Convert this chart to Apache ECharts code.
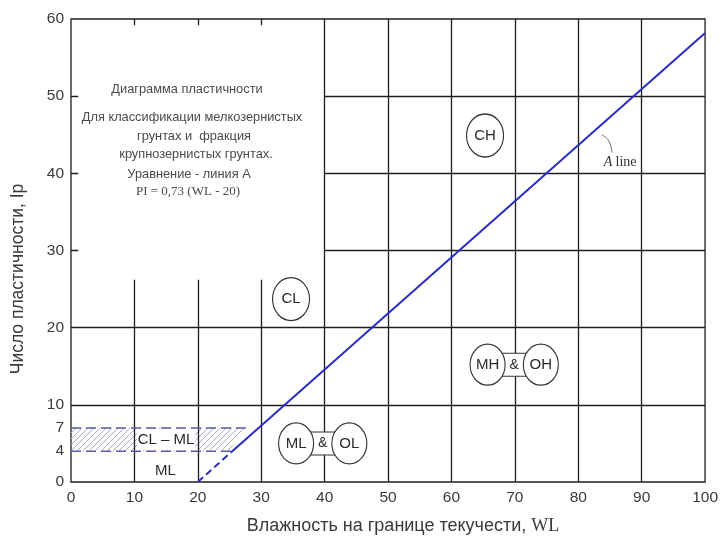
<!DOCTYPE html>
<html><head><meta charset="utf-8">
<script src="https://cdn.jsdelivr.net/npm/echarts@6/dist/echarts.min.js"></script>
<style>html,body{margin:0;padding:0;background:#fff}#c{width:721px;height:544px}</style>
</head><body><div id="c"></div>
<script>
// ---- data ----
const xTickValues = [0,10,20,30,40,50,60,70,80,90,100];
const yTickValues = [0,4,7,10,20,30,40,50,60];
const fullVerticalX = [40,50,60,70,80,90];
const shortVerticalX = [10,20,30];
const shortVerticalTop = 26.2;
const fullHorizontalY = [10,20];
const partialHorizontalY = [30,40,50];
const partialHorizontalFrom = 40;
const topTickX = [10,20,30];
const leftTickY = [30,40,50];
const aLineDashed = [[20,0],[25.3,3.9]];
const aLineSolid = [[25.3,3.9],[100,58.2]];
const aLeader = [[83.7,45.0],[84.8,44.2],[85.3,42.7]];
const clmlBand = [[0,4],[0,7],[27.6,7],[24.8,4]];
const clmlTop = [[0,7],[27.7,7]];
const clmlBottom = [[0,4],[25.3,4]];
const zoneNames = ['CL','CH','ML','OL','MH','OH'];
const zoneX = [34.7,65.3,35.5,43.9,65.7,74.1];
const zoneY = [23.7,44.9,5.0,5.0,15.2,15.2];
const linkX = [39.7,69.9];
const linkY = [5.0,15.2];
const noteNames = ['CL – ML','ML'];
const noteX = [15,14.9];
const noteY = [5.5,1.5];
const aLabelPos = [86.6,41.4];
const infoLines = ['Диаграмма пластичности','Для классификации мелкозернистых','грунтах и  фракция','крупнозернистых грунтах.','Уравнение - линия А','PI = 0,73 (WL - 20)'];

// ---- build ----
const gridSegs = [];
fullVerticalX.forEach(x=>gridSegs.push({coords:[[x,0],[x,60]]}));
shortVerticalX.forEach(x=>gridSegs.push({coords:[[x,0],[x,shortVerticalTop]]}));
fullHorizontalY.forEach(y=>gridSegs.push({coords:[[0,y],[100,y]]}));
partialHorizontalY.forEach(y=>gridSegs.push({coords:[[partialHorizontalFrom,y],[100,y]]}));
topTickX.forEach(x=>gridSegs.push({coords:[[x,60],[x,59.2]]}));
leftTickY.forEach(y=>gridSegs.push({coords:[[0,y],[1.15,y]]}));

function hatchCanvas(){
  const c=document.createElement('canvas');c.width=6;c.height=6;
  const g=c.getContext('2d');g.strokeStyle='#a8a8d0';g.lineWidth=1;
  g.beginPath();g.moveTo(0,6);g.lineTo(6,0);g.moveTo(-1,1);g.lineTo(1,-1);g.moveTo(5,7);g.lineTo(7,5);g.stroke();
  return c;
}
const hatch = hatchCanvas();
const narrow = "'Liberation Sans Narrow','Liberation Sans',Arial,sans-serif";
const sans = "'Liberation Sans',Arial,sans-serif";
const serif = "'Liberation Serif','Times New Roman',serif";
const infoX = [187,192,194,196,189,188];
const infoY = [89,117,136,154,174,192];

const chart = echarts.init(document.getElementById('c'));
chart.setOption({
  animation:false,
  backgroundColor:'#fff',
  grid:{left:71,right:14,top:19,bottom:62,show:true,borderColor:'#1e1e1e',borderWidth:1.3,backgroundColor:'transparent'},
  xAxis:{type:'value',min:0,max:100,interval:10,axisLine:{show:false},axisTick:{show:false},splitLine:{show:false},
    axisLabel:{customValues:xTickValues,color:'#3a3a3a',fontSize:15.5,fontFamily:sans,margin:8}},
  yAxis:{type:'value',min:0,max:60,interval:10,axisLine:{show:false},axisTick:{show:false},splitLine:{show:false},
    axisLabel:{customValues:yTickValues,color:'#3a3a3a',fontSize:15.5,fontFamily:sans,margin:7}},
  graphic:[
    ...infoLines.map((t,i)=>({type:'text',x:infoX[i],y:infoY[i],style:{text:t,align:'center',verticalAlign:'middle',fill:'#4a4a4a',
      font:(i===5?'13px '+serif:'12.8px '+sans)}})),
    {type:'text',x:18,y:279,rotation:Math.PI/2,style:{text:'Число пластичности, Ip',align:'center',verticalAlign:'middle',fill:'#3a3a3a',font:'17.5px '+sans}},
    {type:'text',x:403,y:526,style:{text:'{a|Влажность на границе текучести, }{b|WL}',align:'center',verticalAlign:'middle',
      rich:{a:{fontSize:18,fontFamily:sans,fill:'#3a3a3a',color:'#3a3a3a'},b:{fontSize:18,fontFamily:serif,fill:'#3a3a3a',color:'#3a3a3a'}}}}
  ],
  series:[
    {type:'custom',z:1,data:[0],silent:true,renderItem:function(p,api){
      return {type:'polygon',shape:{points:clmlBand.map(pt=>api.coord(pt))},style:{fill:{image:hatch,repeat:'repeat'}}};}},
    {type:'scatter',z:2,symbolSize:1,silent:true,itemStyle:{color:'rgba(0,0,0,0)',opacity:1},
      data:noteNames.map((n,i)=>({name:n,value:[noteX[i],noteY[i]],
        label:i===0?{backgroundColor:'#fff',width:58,align:'center',padding:[3,0]}:{}})),
      label:{show:true,position:'inside',formatter:'{b}',color:'#2a2a2a',fontSize:15,fontFamily:narrow,opacity:1}},
    {type:'lines',coordinateSystem:'cartesian2d',z:3,silent:true,polyline:false,
      lineStyle:{color:'#1e1e1e',width:1.3,opacity:1},data:gridSegs},
    {type:'line',z:4,data:clmlTop,symbol:'none',silent:true,lineStyle:{color:'#5a5aa8',width:1.5,type:[10,5]}},
    {type:'line',z:4,data:clmlBottom,symbol:'none',silent:true,lineStyle:{color:'#5a5aa8',width:1.5,type:[10,5]}},
    {type:'line',z:5,data:aLineDashed,symbol:'none',silent:true,lineStyle:{color:'#2b2bc8',width:2,type:[7,4]}},
    {type:'line',z:5,data:aLineSolid,symbol:'none',silent:true,lineStyle:{color:'#2b2bc8',width:2}},
    {type:'line',z:5,data:aLeader,symbol:'none',silent:true,smooth:true,lineStyle:{color:'#666',width:1}},
    {type:'scatter',z:6,symbol:'rect',symbolSize:[30,23],silent:true,
      itemStyle:{color:'#fff',borderColor:'#333',borderWidth:1.2,opacity:1},
      data:linkX.map((x,i)=>({name:'&',value:[x,linkY[i]]})),
      label:{show:true,position:'inside',formatter:'{b}',color:'#2a2a2a',fontSize:14,fontFamily:narrow,opacity:1}},
    {type:'scatter',z:7,symbol:'circle',silent:true,
      symbolSize:function(v,p){return p.dataIndex<2?[37,43]:[35,41];},
      itemStyle:{color:'#fff',borderColor:'#333',borderWidth:1.2,opacity:1},
      data:zoneNames.map((n,i)=>({name:n,value:[zoneX[i],zoneY[i]]})),
      label:{show:true,position:'inside',formatter:'{b}',color:'#2a2a2a',fontSize:15,fontFamily:narrow,opacity:1}},
    {type:'scatter',z:7,symbolSize:1,silent:true,itemStyle:{color:'rgba(0,0,0,0)',opacity:1},
      data:[{name:'A line',value:aLabelPos}],
      label:{show:true,position:'inside',formatter:'{i|A} {r|line}',
        rich:{i:{fontStyle:'italic',fontFamily:serif,fontSize:14,color:'#333'},r:{fontFamily:serif,fontSize:14,color:'#333'}}}}
  ]
});
</script></body></html>
